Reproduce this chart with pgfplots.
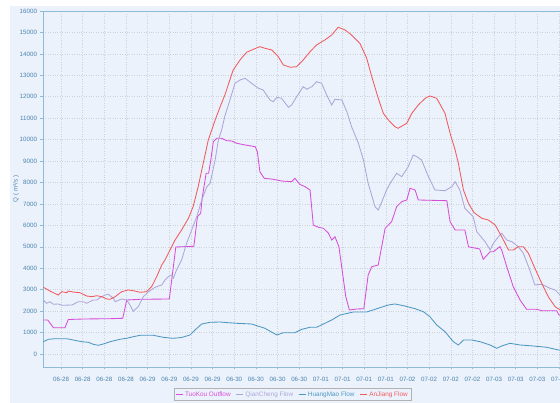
\documentclass[border=0pt]{standalone}
\usepackage{fontspec}
\setmainfont{Liberation Sans}
\usepackage{pgfplots}
\pgfplotsset{compat=1.18}
\definecolor{bgc}{HTML}{ECF2FB}
\definecolor{axc}{HTML}{8DBBD8}
\definecolor{tkc}{HTML}{4A84B0}
\definecolor{gridc}{HTML}{CDD1D9}
\definecolor{cTuo}{HTML}{D74CD8}
\definecolor{cQian}{HTML}{ADA6DA}
\definecolor{cHuang}{HTML}{4B98C2}
\definecolor{cAn}{HTML}{F15A5C}
\begin{document}
\begin{tikzpicture}[x=1pt,y=1pt]
\useasboundingbox (0,0) rectangle (560,403);
\clip (0,0) rectangle (560,403);
\fill[bgc] (10,0) rectangle (580,397);
\begin{axis}[
  at={(43pt,36pt)}, anchor=south west,
  scale only axis, width=530.5pt, height=356pt,
  xmin=0, xmax=147, ymin=-606, ymax=16000,
  xtick={5,11,...,143},
  xticklabels={06-28,06-28,06-28,06-28,06-29,06-29,06-29,06-29,06-30,06-30,06-30,06-30,07-01,07-01,07-01,07-01,07-02,07-02,07-02,07-02,07-03,07-03,07-03,07-03},
  ytick={0,1000,...,16000},
  scaled y ticks=false,
  grid=major,
  major grid style={dotted, gridc, line width=0.6pt},
  axis line style={axc, line width=0.9pt},
  tick style={axc, line width=0.6pt},
  tick align=outside, major tick length=2.5pt, tick pos=left,
  ticklabel style={font=\fontsize{6.2}{7}\selectfont, text=tkc},
  xticklabel style={yshift=-4pt},
  /pgf/number format/.cd, 1000 sep={}, assume math mode=true, /pgfplots/.cd,
  ylabel={Q ( m³/s )},
  ylabel style={at={(axis description cs:-0.051,0.5)}, anchor=center, font=\fontsize{6.2}{7}\selectfont, text=tkc},
  legend columns=4,
  legend style={at={(axis description cs:0.4703,-0.0772)}, anchor=center, draw=gray!60, fill=bgc,
    font=\fontsize{6.4}{7}\selectfont, inner sep=1pt, row sep=0pt,
    /tikz/every even column/.append style={column sep=3pt}},
  legend image code/.code={\draw[#1, line width=0.8pt] (0pt,0pt) -- (7pt,0pt);},
  every axis plot/.append style={line width=0.85pt},
]
\addplot[cTuo] table {
t v
0.1 1586
1.3 1586
2.9 1227
6.1 1227
7.0 1609
11.2 1633
18.6 1647
22.1 1665
23.2 2519
26.9 2552
35.0 2566
36.8 4992
41.8 5024
42.8 6405
43.7 6564
44.1 7263
45.2 8430
45.9 8430
46.5 9050
47.2 9904
48.1 10062
49.5 10062
50.9 9950
52.3 9936
53.7 9829
56.0 9750
58.8 9671
59.4 9437
60.1 8504
61.3 8196
63.8 8150
66.1 8070
68.9 8038
69.8 8196
71.2 7907
72.6 7805
74.0 7651
74.9 6018
76.3 5911
77.7 5864
79.1 5631
80.0 5318
80.9 5472
82.0 5006
83.9 2673
84.9 2053
86.9 2099
88.9 2113
90.1 3685
91.1 4073
92.9 4152
94.8 5864
96.6 6172
98.0 6872
99.4 7105
100.8 7184
101.7 7730
103.1 7651
104.0 7184
111.9 7151
112.8 6172
114.2 5785
116.9 5785
117.9 5000
121.0 4900
122.0 4418
123.9 4772
124.8 4772
126.6 5006
127.1 4852
128.5 4073
130.3 3140
132.2 2519
134.0 2085
136.8 2085
138.2 2020
142.3 2020
143.0 1819
146.0 1750
};
\addlegendentry{\textcolor{cTuo}{TuoKou Outflow}}
\addplot[cQian] table {
t v
0.1 2519
1.0 2365
1.9 2440
2.9 2319
4.2 2333
5.2 2272
8.0 2286
9.8 2440
11.2 2440
12.1 2365
13.9 2519
14.9 2519
15.8 2626
17.2 2752
18.1 2785
19.5 2598
20.0 2440
21.8 2566
23.2 2519
24.1 2286
25.0 1997
26.4 2207
27.8 2673
29.2 2892
30.6 3065
31.5 3140
32.9 3219
33.8 3452
34.7 3606
35.7 3685
36.1 3531
37.0 3919
38.4 4385
39.8 5164
41.2 5785
42.6 6405
44.0 7184
45.4 7805
46.3 7963
47.7 9050
48.6 9983
49.5 10450
50.4 11103
51.8 11849
53.2 12628
54.6 12782
56.0 12861
57.8 12628
59.7 12395
61.0 12316
62.9 11849
63.8 11770
64.8 11975
66.1 11928
68.0 11509
68.9 11616
70.3 12003
72.1 12470
73.1 12348
74.5 12470
75.8 12703
77.2 12628
78.6 12082
80.0 11616
80.9 11882
82.8 11849
84.2 11303
85.5 10604
87.4 9829
88.8 9050
90.1 7963
92.0 6872
92.9 6718
93.9 7105
95.2 7651
96.2 7963
98.0 8430
99.4 8271
101.2 8737
102.6 9283
103.6 9204
104.9 9050
106.8 8271
108.6 7651
111.4 7618
113.3 7805
114.2 8038
115.5 7651
116.9 6797
119.2 6405
120.2 5705
122.5 5239
123.9 4852
124.8 5164
126.2 5472
127.1 5631
128.5 5318
129.9 5239
131.7 5006
133.1 4698
134.9 3919
136.3 3219
138.2 3252
140.5 3065
141.9 2986
143.3 2752
146.0 2600
};
\addlegendentry{\textcolor{cQian}{QianCheng Flow}}
\addplot[cHuang] table {
t v
0.1 574
1.5 686
3.3 714
6.6 714
8.4 653
10.7 574
12.6 546
13.9 453
15.3 406
16.7 467
18.6 574
21.3 686
23.2 732
25.0 807
26.9 872
30.6 872
33.3 779
36.1 732
38.4 770
40.7 886
42.1 1120
44.0 1400
46.3 1479
49.0 1493
51.3 1460
53.7 1432
57.8 1400
61.5 1199
64.8 886
66.6 994
69.8 994
71.7 1152
74.0 1246
75.8 1246
77.7 1400
80.0 1586
82.3 1819
86.0 1959
89.7 1959
92.5 2113
95.7 2286
97.5 2333
100.3 2239
103.1 2113
105.4 1973
107.2 1740
109.1 1353
111.4 1040
113.7 574
115.1 420
116.5 653
118.8 653
121.1 574
123.9 420
125.7 266
127.1 373
129.4 499
132.2 420
135.9 373
139.6 313
142.8 187
146.0 150
};
\addlegendentry{\textcolor{cHuang}{HuangMao Flow}}
\addplot[cAn] table {
t v
0.1 3112
1.9 2939
4.2 2752
5.2 2906
6.6 2860
7.0 2939
8.3 2892
10.2 2860
12.1 2706
13.5 2673
14.9 2720
16.3 2673
17.7 2566
18.6 2552
20.0 2673
21.8 2906
23.6 2986
25.0 2953
26.9 2878
28.7 2906
30.1 3140
31.5 3606
32.9 4152
33.8 4385
35.2 4852
36.6 5318
38.4 5785
40.3 6331
41.6 6872
43.0 7805
44.4 8896
45.8 9983
47.7 10916
49.1 11537
50.4 12082
52.7 13249
54.6 13715
56.4 14074
58.3 14214
60.1 14336
61.5 14261
63.4 14182
65.2 13869
66.6 13482
68.5 13374
70.3 13403
72.1 13715
74.0 14102
75.8 14415
78.1 14648
80.0 14881
81.8 15241
83.7 15115
85.5 14881
87.8 14494
89.7 13794
91.1 12936
92.9 11928
94.3 11229
95.7 10916
97.5 10604
98.4 10529
100.8 10762
102.2 11229
104.0 11616
105.9 11928
107.2 12036
109.1 11928
111.4 11229
112.8 10296
114.2 9517
115.1 8896
116.5 7651
117.9 7030
119.4 6600
121.6 6331
123.4 6251
125.3 6018
127.1 5472
129.0 4852
130.3 4852
131.7 5006
133.1 5006
134.5 4698
136.3 3998
138.2 3298
140.0 2673
141.9 2207
143.3 2053
146.0 1850
};
\addlegendentry{\textcolor{cAn}{AnJiang Flow}}
\end{axis}
\end{tikzpicture}
\end{document}
